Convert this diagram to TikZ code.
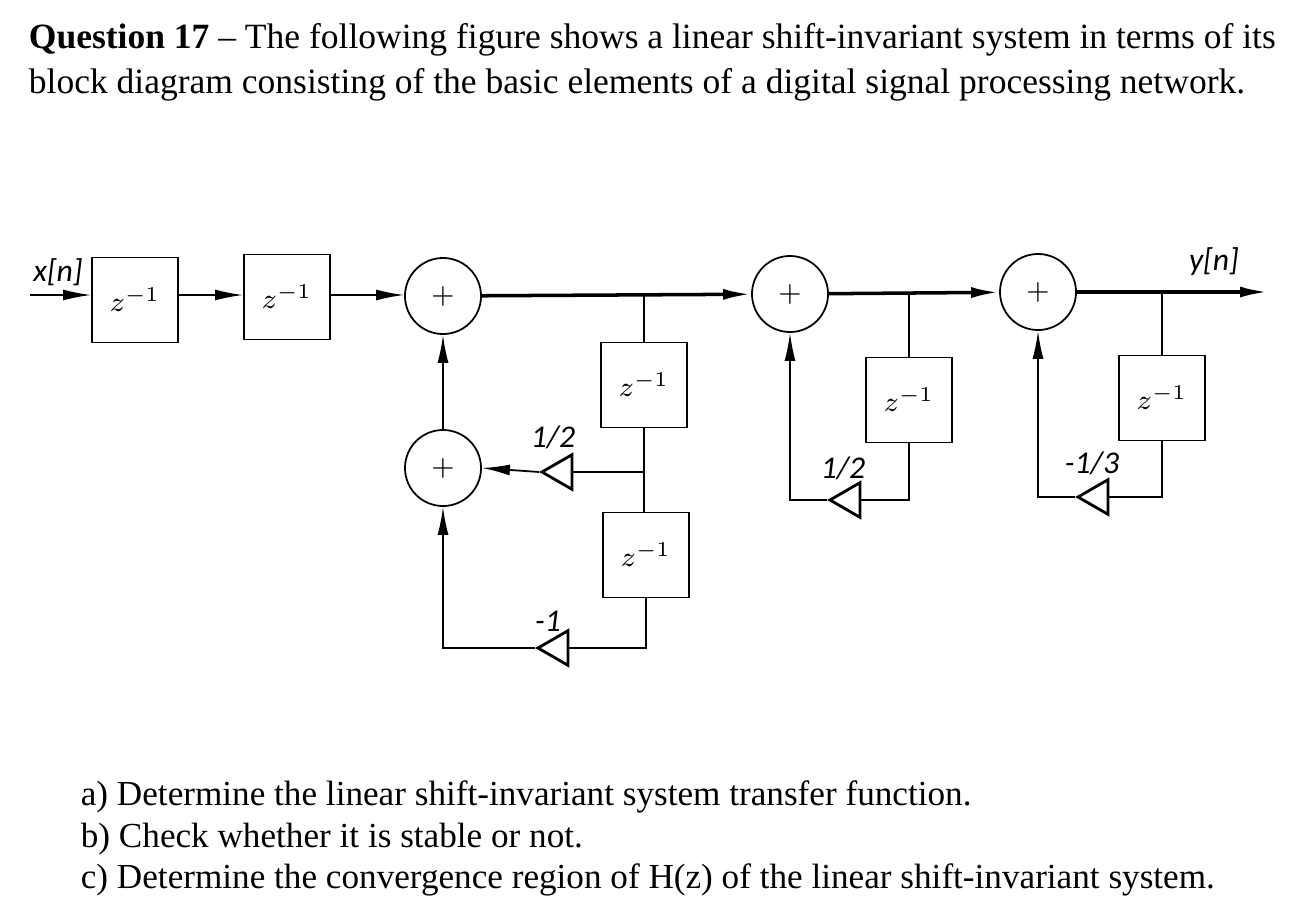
\documentclass[tikz,border=0pt]{standalone}
\usepackage{fontspec}
\setmainfont{Liberation Serif}
\newfontfamily\diag{Carlito}
\usetikzlibrary{shapes.geometric,arrows.meta}
\tikzset{
  delay/.style={draw, minimum width=0.86cm, minimum height=0.85cm, inner sep=0pt, font=\footnotesize},
  adder/.style={circle, draw, minimum size=0.76cm, inner sep=0pt, font=\footnotesize},
  gain/.style={isosceles triangle, draw, shape border rotate=180, isosceles triangle apex angle=60, minimum height=0.3cm, inner sep=0pt, line width=0.8pt},
  sig/.style={-{Latex[length=0.28cm,width=0.11cm]}},
  lbl/.style={font=\diag\itshape\fontsize{9}{10}\selectfont}
}
\begin{document}
\begin{tikzpicture}[x=0.01cm, y=-0.01cm, line width=0.5pt]
  \useasboundingbox (0,0) rectangle (1306,918);
  % title and questions
  \node[anchor=north west, align=left, inner sep=0pt, font=\fontsize{10.1}{12.8}\selectfont] (title) at (28,23)
    {\textbf{Question 17} -- The following figure shows a linear shift-invariant system in terms of its\\
     block diagram consisting of the basic elements of a digital signal processing network.};
  \node[anchor=north west, align=left, inner sep=0pt, font=\fontsize{10}{11.8}\selectfont] (quest) at (80,780)
    {a) Determine the linear shift-invariant system transfer function.\\
     b) Check whether it is stable or not.\\
     c) Determine the convergence region of H(z) of the linear shift-invariant system.};
  % blocks
  \coordinate (in) at (30,295);
  \node[delay] (d1) at (135,300) {$z^{-1}$};
  \node[delay] (d2) at (287,297) {$z^{-1}$};
  \node[adder] (s1) at (443,296) {$+$};
  \node[adder] (s4) at (443,468) {$+$};
  \node[delay] (d3) at (644,385) {$z^{-1}$};
  \node[delay] (d4) at (646,555) {$z^{-1}$};
  \node[gain] (g1) at (562,472) {};
  \node[gain] (g2) at (558,648) {};
  \node[adder] (s2) at (790,294) {$+$};
  \node[delay] (d5) at (909,400) {$z^{-1}$};
  \node[gain] (g3) at (850,500) {};
  \node[adder] (s3) at (1038,292) {$+$};
  \node[delay] (d6) at (1162,398) {$z^{-1}$};
  \node[gain] (g4) at (1098,497) {};
  \coordinate (out) at (1268,292);
  % labels
  \node[lbl] (xn) at (58,272) {x[n]};
  \node[lbl] (yn) at (1214,262) {y[n]};
  \node[lbl] (k1) at (553,437) {1/2};
  \node[lbl] (k2) at (548,621) {-1};
  \node[lbl] (k3) at (843,468) {1/2};
  \node[lbl] (k4) at (1092,463) {-1/3};
  % forward path
  \draw[sig] (in) -- (d1.west |- in);
  \draw[sig] (d1.east |- in) -- (d2.west |- in);
  \draw[sig] (d2.east |- in) -- (s1.west |- in);
  \draw[sig, line width=1pt] (s1) -- (s2);
  \draw[sig, line width=1pt] (s2) -- (s3);
  \draw[sig, line width=1pt] (s3.east) -- (out);
  % first section
  \draw (d3.north |- s1.east) -- (d3.north);
  \draw (d3.south) -- (d4.north -| d3.south);
  \draw (g1.east) -- (d3.south |- g1);
  \draw[sig] (g1.apex) -- (s4.east);
  \draw (d4.south) |- (g2.east);
  \draw[sig] (g2.apex) -| (s4.south);
  \draw[sig] (s4) -- (s1);
  % second section
  \draw (d5.north |- s2.east) -- (d5.north);
  \draw (d5.south) |- (g3.east);
  \draw[sig] (g3.apex) -| (s2.south);
  % third section
  \draw (d6.north |- s3.east) -- (d6.north);
  \draw (d6.south) |- (g4.east);
  \draw[sig] (g4.apex) -| (s3.south);
\end{tikzpicture}
\end{document}
